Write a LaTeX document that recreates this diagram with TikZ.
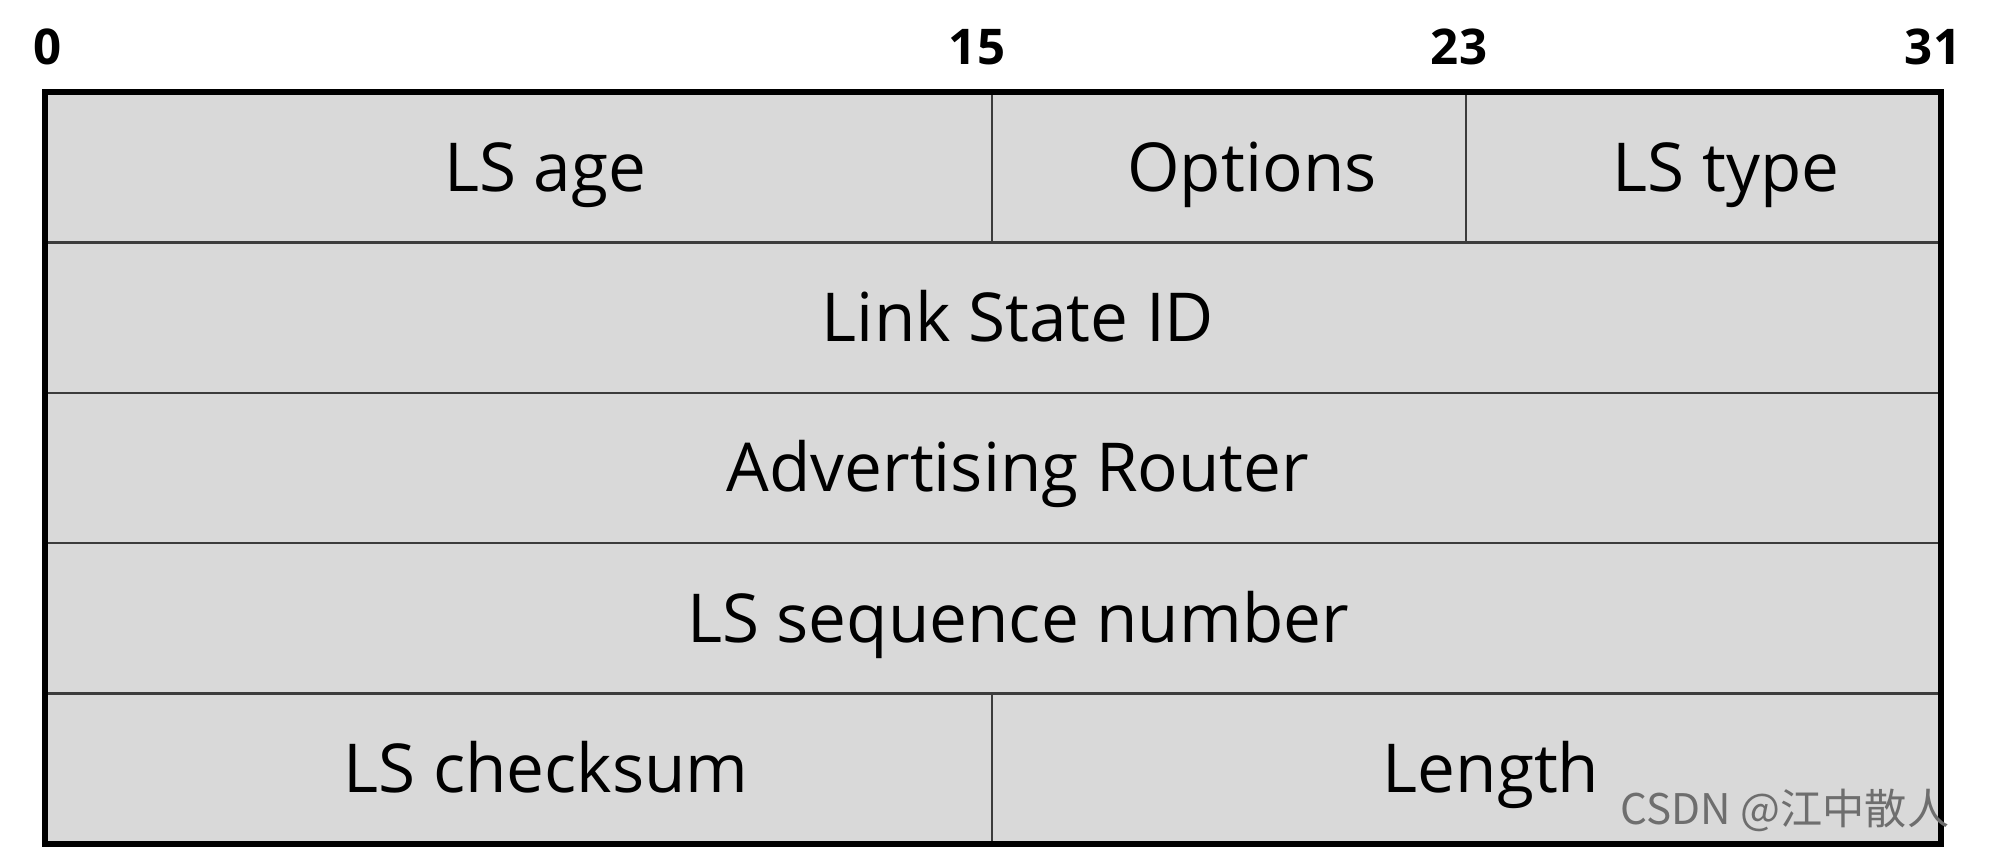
\documentclass[tikz,border=0pt]{standalone}
\usepackage{fontspec}
\setmainfont{Open Sans}
\newfontfamily\cjkfont{Noto Sans CJK SC}
\definecolor{cellgray}{HTML}{D9D9D9}
\definecolor{linegray}{HTML}{3C3C3C}
\definecolor{markgray}{HTML}{6E6E6E}
\begin{document}
\begin{tikzpicture}[x=1cm,y=-1cm,
    field/.style={anchor=base,font=\fontsize{19.2}{19.2}\selectfont},
    bitnum/.style={anchor=base,font=\fontsize{14}{14}\selectfont\bfseries},
    sep/.style={line width=0.7pt,draw=linegray}]
  \useasboundingbox (0,0) rectangle (20,8.54);
  % header background and grid
  \fill[cellgray] (0.45,0.92) rectangle (19.41,8.44);
  \draw[sep] (0.45,2.424) -- (19.41,2.424);
  \draw[sep] (0.45,3.928) -- (19.41,3.928);
  \draw[sep] (0.45,5.432) -- (19.41,5.432);
  \draw[sep] (0.45,6.936) -- (19.41,6.936);
  \draw[sep] (9.92,0.92) -- (9.92,2.424);
  \draw[sep] (14.66,0.92) -- (14.66,2.424);
  \draw[sep] (9.92,6.936) -- (9.92,8.44);
  \draw[line width=1.8pt] (0.45,0.92) rectangle (19.41,8.44);
  % bit numbers
  \node[bitnum] (b0) at (0.48,0.64) {0};
  \node[bitnum] (b15) at (9.77,0.64) {15};
  \node[bitnum] (b23) at (14.59,0.64) {23};
  \node[bitnum] (b31) at (19.33,0.64) {31};
  % fields
  \node[field] (age) at (5.45,1.91) {LS age};
  \node[field] (opts) at (12.52,1.91) {Options};
  \node[field] (type) at (17.26,1.91) {LS type};
  \node[field] (lsid) at (10.18,3.414) {Link State ID};
  \node[field] (adv) at (10.18,4.918) {Advertising Router};
  \node[field] (seq) at (10.18,6.422) {LS sequence number};
  \node[field] (chk) at (5.46,7.926) {LS checksum};
  \node[field] (len) at (14.91,7.926) {Length};
  \node[font=\cjkfont\fontsize{12}{12}\selectfont,text=markgray] (mark) at (17.85,8.10) {CSDN @江中散人};
\end{tikzpicture}
\end{document}
